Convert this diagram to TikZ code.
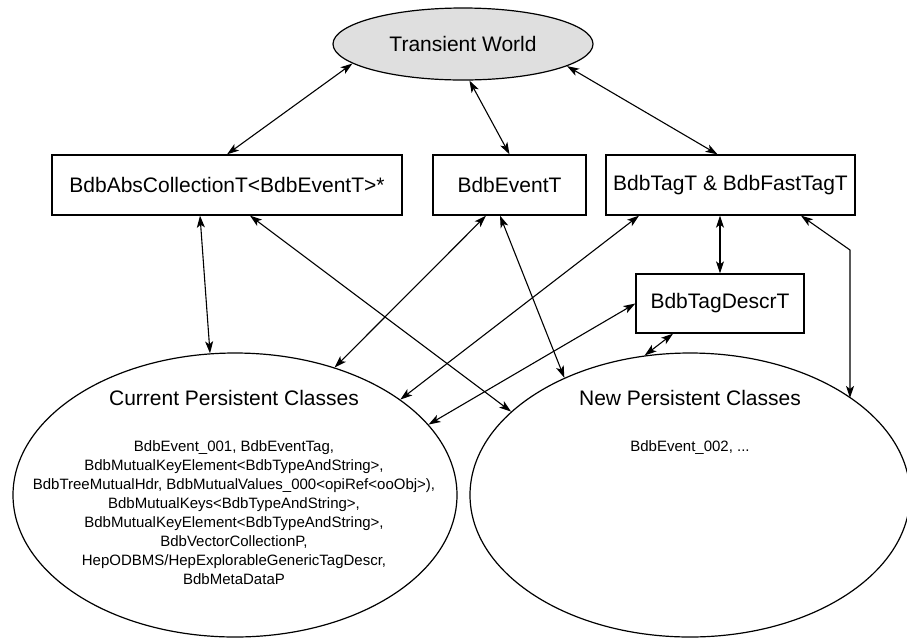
\documentclass[tikz,border=0pt]{standalone}
\usepackage{fontspec}
\setmainfont{Liberation Sans}
\usetikzlibrary{arrows.meta,shapes.geometric}
\tikzset{
  cls/.style={draw,line width=1.3pt,minimum height=60pt,font=\fontsize{21}{25}\selectfont},
  pers/.style={draw,ellipse,line width=1.2pt},
  link/.style={{Stealth[length=12pt,width=8pt,inset=3pt]}-{Stealth[length=12pt,width=8pt,inset=3pt]},line width=1.1pt},
}

\begin{document}
\begin{tikzpicture}[x=1pt,y=-1pt]

\useasboundingbox (0,0) rectangle (907,638);

\node[draw,ellipse,fill=gray!25,line width=1.2pt,minimum width=260pt,minimum height=72pt,font=\fontsize{21}{25}\selectfont] (tw) at (463,44) {Transient World};

\node[cls,minimum width=350pt] (coll) at (227,185) {BdbAbsCollectionT<BdbEventT>*};
\node[cls,minimum width=153pt] (evt) at (509.5,185) {BdbEventT};
\node[cls,minimum width=249pt] (tag) at (730.5,185) {BdbTagT \& BdbFastTagT};
\node[cls,minimum width=168pt,minimum height=59pt] (descr) at (720,303.5) {BdbTagDescrT};

\node[pers,minimum width=444pt,minimum height=284pt] (cur) at (235,495) {};
\node[pers,minimum width=440pt,minimum height=284pt] (new) at (690,495) {};

\node[font=\fontsize{21}{25}\selectfont] (curtitle) at (234,398) {Current Persistent Classes};
\node[font=\fontsize{21}{25}\selectfont] (newtitle) at (690,398) {New Persistent Classes};
\node[align=center,anchor=north,font=\fontsize{15}{19}\selectfont] (curlist) at (234,437) {
BdbEvent\_001, BdbEventTag,\\
BdbMutualKeyElement<BdbTypeAndString>,\\
BdbTreeMutualHdr, BdbMutualValues\_000<opiRef<ooObj>),\\
BdbMutualKeys<BdbTypeAndString>,\\
BdbMutualKeyElement<BdbTypeAndString>,\\
BdbVectorCollectionP,\\
HepODBMS/HepExplorableGenericTagDescr,\\
BdbMetaDataP};
\node[anchor=north,font=\fontsize{15}{19}\selectfont] (newlist) at (690,437) {BdbEvent\_002, ...};

% transient world
\draw[link] (coll.north) -- (tw.190);
\draw[link] (evt.north) -- (tw.-80);
\draw[link] ([xshift=-13pt]tag.north) -- (tw.-12);

% to the persistent classes
\draw[link] ([xshift=-27pt]coll.south) -- (cur.100);
\draw[link] ([xshift=23pt]coll.south) -- (new.155);
\draw[link] ([xshift=-23.5pt]evt.south) -- (cur.52);
\draw[link] ([xshift=-9.5pt]evt.south) -- (new.137);
\draw[link] ([xshift=-91.5pt]tag.south) -- (cur.30);
\draw[link] ([xshift=-10.5pt]tag.south) -- (descr.north);
\draw[link] (descr.west) -- (cur.20);
\draw[link] ([xshift=-47pt]descr.south) -- (new.108);

\coordinate (bend) at (850,250);
\draw[link] ([xshift=70.5pt]tag.south) -- (bend) -- (bend |- new.31);

\end{tikzpicture}
\end{document}
